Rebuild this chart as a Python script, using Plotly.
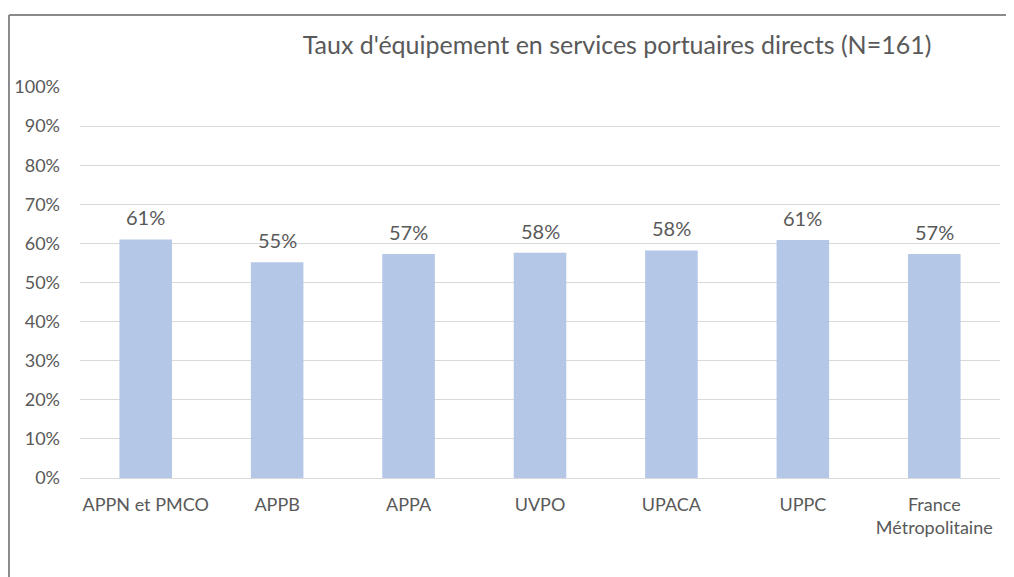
import plotly.graph_objects as go

categories = ["APPN et PMCO", "APPB", "APPA", "UVPO", "UPACA", "UPPC", "France<br>Métropolitaine"]
values = [61.0, 55.2, 57.3, 57.6, 58.2, 60.9, 57.3]
title_text = "Taux d'équipement en services portuaires directs (N=161)"

W, H = 1014, 577

fig = go.Figure()
fig.add_trace(go.Bar(x=categories, y=values, marker=dict(color="#B4C7E7", line=dict(width=0)),
                     hoverinfo="skip"))

for c, v in zip(categories, values):
    fig.add_annotation(x=c, y=v, text=f"{v:.0f}%", showarrow=False, yshift=22,
                       font=dict(family="Lato", size=20, color="#595959"))

# chart frame (top and left edges visible in the reference)
frame = dict(color="#8a8a8a", width=2)
fig.add_shape(type="line", xref="paper", yref="paper", x0=-0.0772, x1=1.2, y0=1.184, y1=1.184,
              line=frame, layer="below")
fig.add_shape(type="line", xref="paper", yref="paper", x0=-0.0772, x1=-0.0772, y0=-0.4, y1=1.184,
              line=frame, layer="below")

fig.update_layout(
    width=W, height=H,
    margin=dict(l=72, r=22, t=79, b=107, autoexpand=False),
    paper_bgcolor="white", plot_bgcolor="white",
    bargap=0.6,
    showlegend=False,
    title=dict(text=title_text, x=609/W, xanchor="center", y=1 - 37/H, yanchor="middle",
               font=dict(family="Lato", size=25, color="#595959")),
    font=dict(family="Lato", color="#595959"),
    xaxis=dict(showgrid=False, tickfont=dict(size=18, color="#595959"), ticks="", showline=False,
               automargin=False, ticklabelstandoff=14),
    yaxis=dict(range=[0, 100], dtick=10, ticksuffix="%", gridcolor="#d9d9d9", gridwidth=1,
               zeroline=True, zerolinecolor="#d9d9d9", zerolinewidth=1, automargin=False,
               tickfont=dict(size=18, color="#595959"), showline=False, ticklabelstandoff=19),
)

fig.write_html("out.html")
